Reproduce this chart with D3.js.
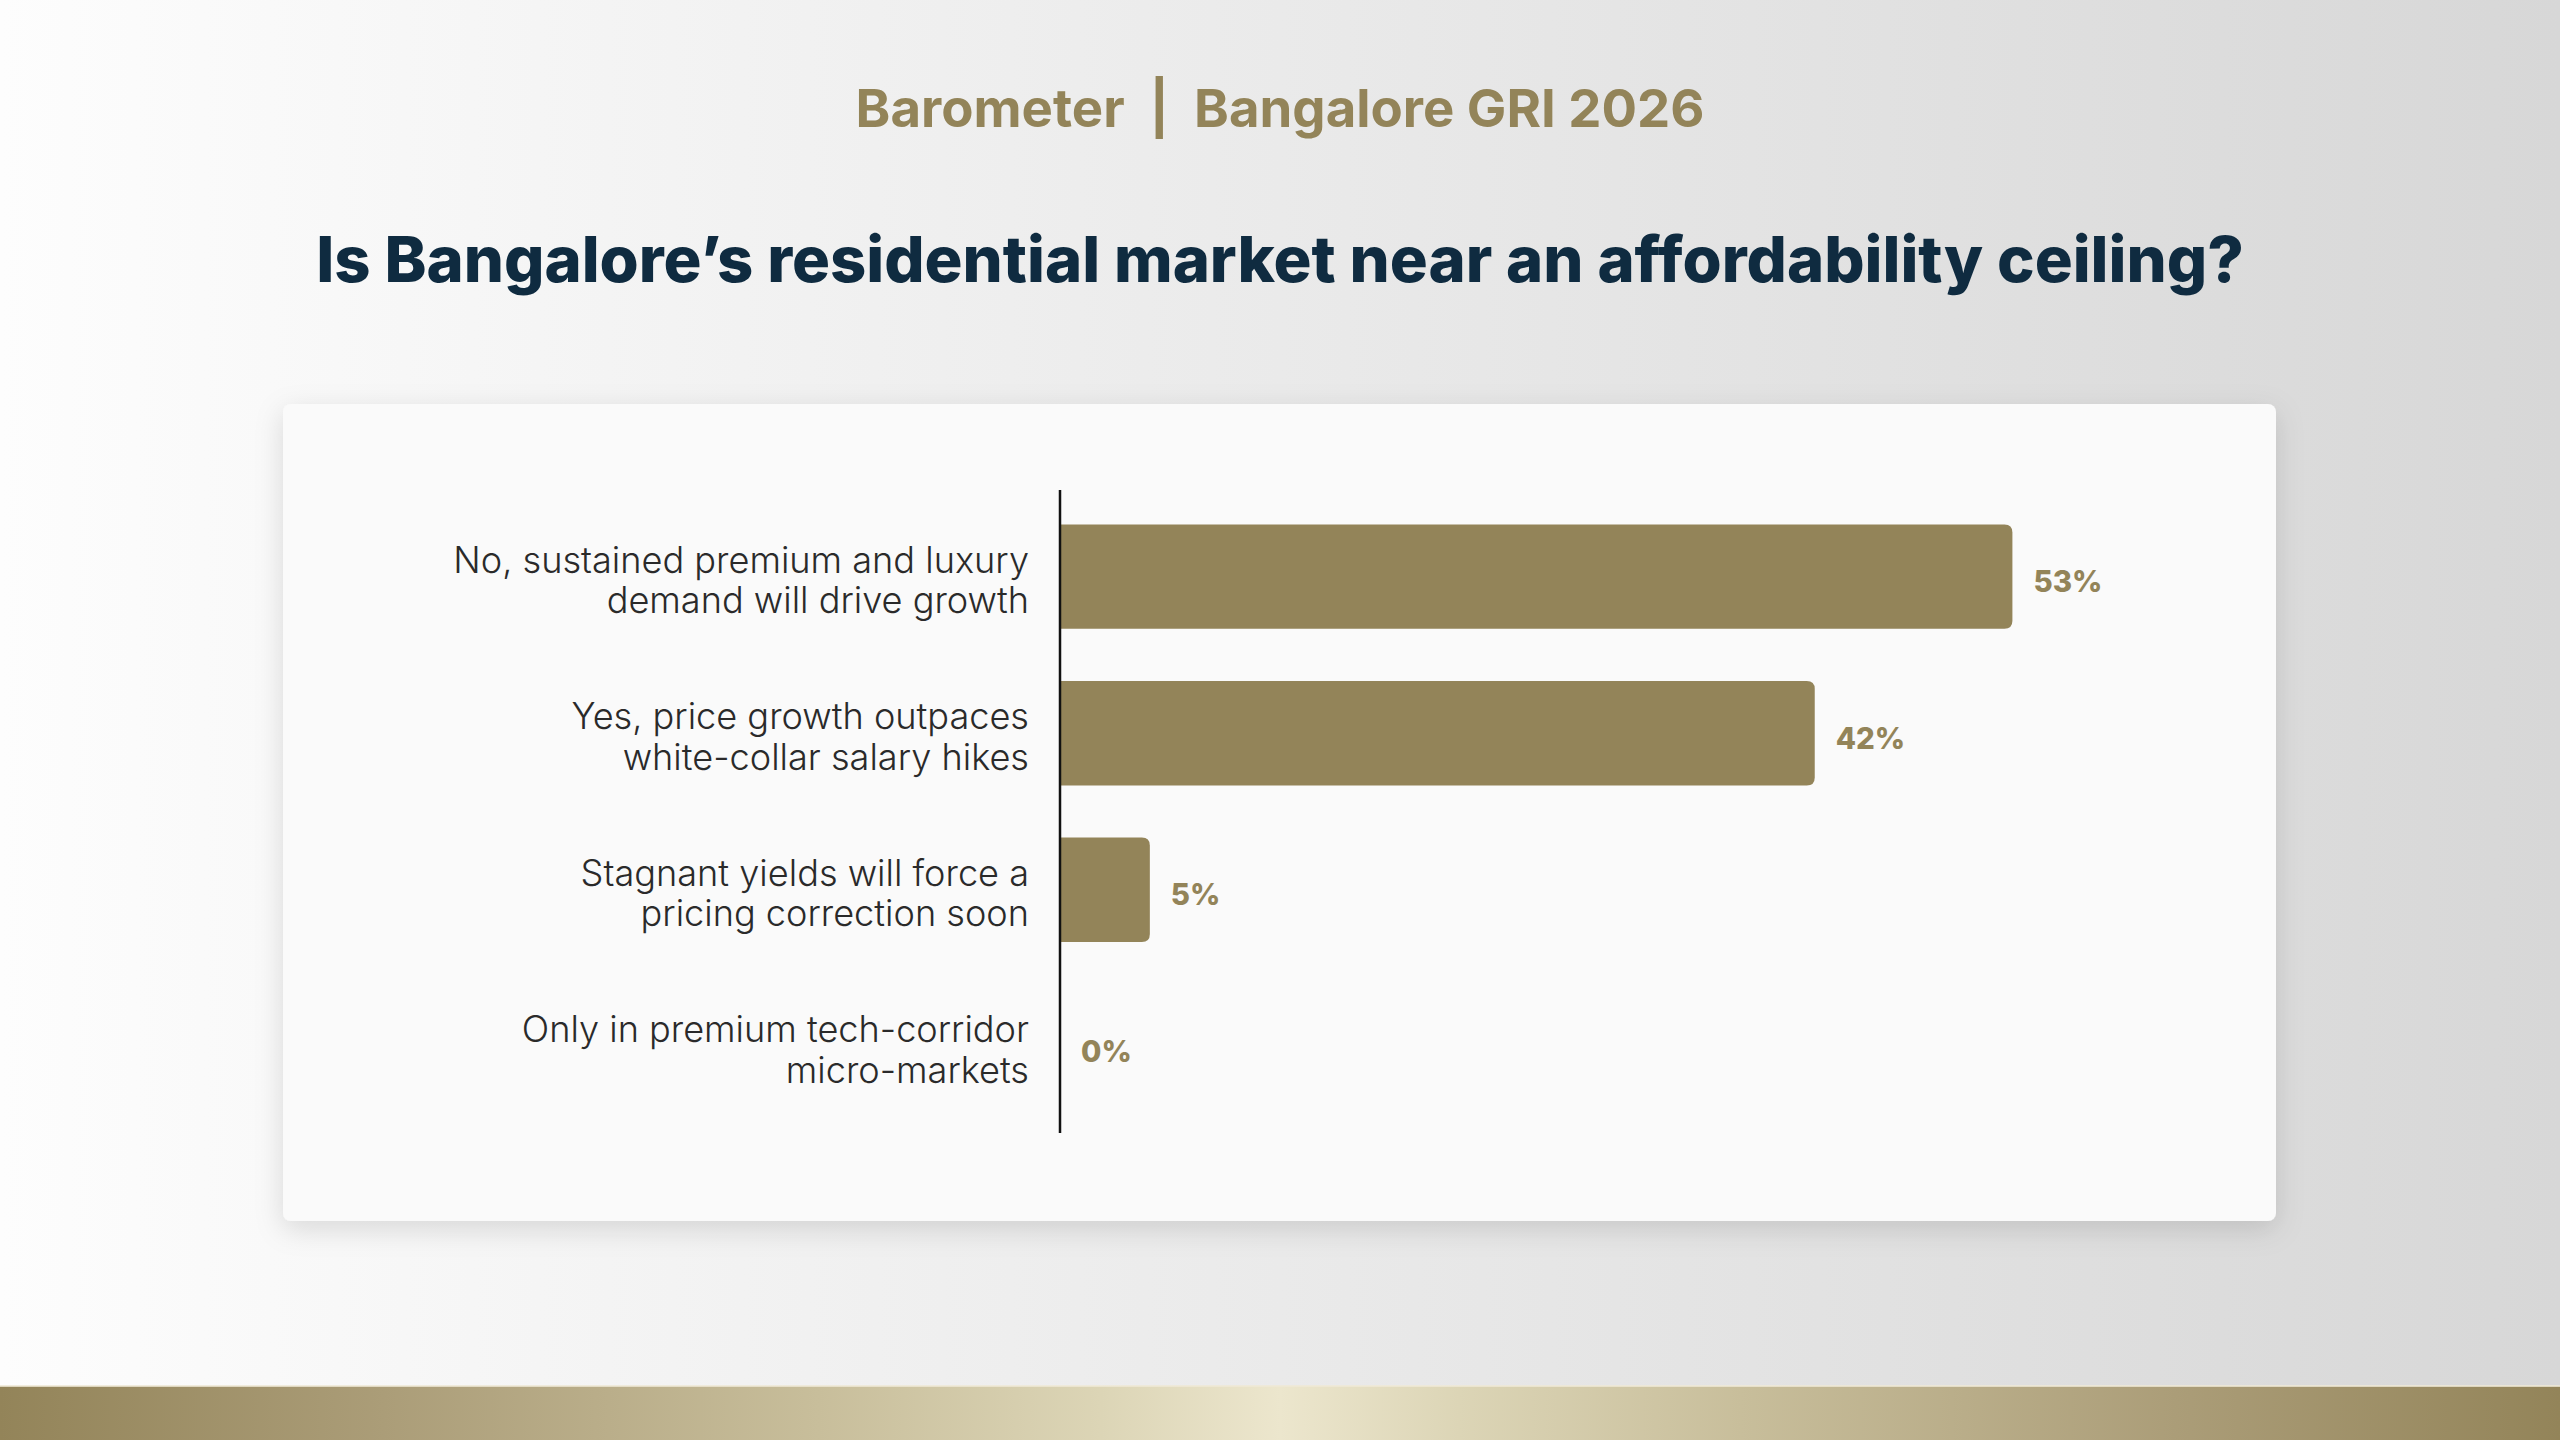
<!DOCTYPE html>
<html>
<head>
<meta charset="utf-8">
<script src="https://cdn.jsdelivr.net/npm/d3@7"></script>
<style>
  html, body { margin: 0; padding: 0; width: 2560px; height: 1440px; overflow: hidden; }
  svg { display: block; }
</style>
</head>
<body>
<svg id="chart" width="2560" height="1440"></svg>
<script>
// ---- data ----
const subtitleText = "Barometer  |  Bangalore GRI 2026";
const titleText = "Is Bangalore\u2019s residential market near an affordability ceiling?";
const categories = [
  ["No, sustained premium and luxury", "demand will drive growth"],
  ["Yes, price growth outpaces", "white-collar salary hikes"],
  ["Stagnant yields will force a", "pricing correction soon"],
  ["Only in premium tech-corridor", "micro-markets"]
];
const values = [53, 42, 5, 0];
const valueLabels = ["53%", "42%", "5%", "0%"];

// ---- setup ----
const W = 2560, H = 1440;
const FONT = "Inter, 'Open Sans', sans-serif";
const GOLD = "#938459";
const NAVY = "#0f2b40";
const svg = d3.select("#chart");
const defs = svg.append("defs");

const bg = defs.append("linearGradient").attr("id", "bg").attr("x1", 0).attr("y1", 0).attr("x2", 1).attr("y2", 0);
bg.append("stop").attr("offset", 0).attr("stop-color", "#fdfdfd");
bg.append("stop").attr("offset", 1).attr("stop-color", "#d7d7d7");

const band = defs.append("linearGradient").attr("id", "band").attr("x1", 0).attr("y1", 0).attr("x2", 1).attr("y2", 0);
[[0, "#938459"], [0.15, "#ab9d78"], [0.32, "#c8be9b"], [0.43, "#dcd5b6"], [0.5, "#ece6cd"], [0.57, "#dcd5b6"], [0.68, "#c8be9b"], [0.85, "#ab9d78"], [1, "#938459"]]
  .forEach(([o, c]) => band.append("stop").attr("offset", o).attr("stop-color", c));

const shadow = defs.append("filter").attr("id", "shadow").attr("x", "-10%").attr("y", "-10%").attr("width", "120%").attr("height", "130%");
shadow.append("feDropShadow").attr("dx", 0).attr("dy", 8).attr("stdDeviation", 14).attr("flood-color", "#000").attr("flood-opacity", 0.13);

svg.append("rect").attr("width", W).attr("height", H).attr("fill", "url(#bg)");

// bottom band
svg.append("rect").attr("x", 0).attr("y", 1386).attr("width", W).attr("height", 54).attr("fill", "url(#band)");
svg.append("rect").attr("x", 0).attr("y", 1385).attr("width", W).attr("height", 2).attr("fill", "#efe9d6").attr("opacity", 0.8);

// helper: fit text width
function fit(sel, target, base) {
  sel.attr("font-size", base);
  const len = sel.node().getComputedTextLength();
  const fs = base * target / len;
  sel.attr("font-size", fs);
  return fs;
}

// subtitle
const sub = svg.append("text").attr("x", 1280).attr("y", 127).attr("text-anchor", "middle")
  .attr("font-family", FONT).attr("font-weight", 700).attr("fill", GOLD)
  .style("white-space", "pre").attr("xml:space", "preserve").text(subtitleText);
fit(sub, 849, 56);

// title
const ttl = svg.append("text").attr("x", 1280).attr("y", 282).attr("text-anchor", "middle")
  .attr("font-family", FONT).attr("font-weight", 800).attr("fill", NAVY).text(titleText);
fit(ttl, 1928, 70);

// card
svg.append("rect").attr("x", 283).attr("y", 404).attr("width", 1993).attr("height", 817)
  .attr("rx", 8).attr("fill", "#fafafa").attr("filter", "url(#shadow)");

// scales
const x0 = 1060;
const x = d3.scaleLinear().domain([0, 100]).range([x0, x0 + 1797]);
const y = d3.scaleBand().domain(d3.range(categories.length)).range([490, 1133]).paddingInner(0.333).paddingOuter(0.22);

const g = svg.append("g");

// bars with rounded right corners
function barPath(xs, xe, yt, h, r) {
  const w = xe - xs;
  if (w <= 0) return "";
  r = Math.min(r, w, h / 2);
  return `M${xs},${yt}H${xe - r}Q${xe},${yt} ${xe},${yt + r}V${yt + h - r}Q${xe},${yt + h} ${xe - r},${yt + h}H${xs}Z`;
}
g.selectAll("path.bar").data(values).join("path").attr("class", "bar")
  .attr("d", (d, i) => barPath(x(0), x(d), y(i), y.bandwidth(), 8))
  .attr("fill", GOLD);

// value labels
const vl = g.selectAll("text.val").data(values).join("text").attr("class", "val")
  .attr("x", d => x(d) + 21).attr("y", (d, i) => y(i) + y.bandwidth() / 2 + 5)
  .attr("dy", "0.36em").attr("font-family", FONT).attr("font-weight", 800).attr("fill", GOLD)
  .text((d, i) => valueLabels[i]);
vl.attr("font-size", 32);
const vfs = 32 * 69 / vl.nodes()[0].getComputedTextLength();
vl.attr("font-size", vfs);

// category labels
const cl = g.selectAll("text.cat").data(categories).join("text").attr("class", "cat")
  .attr("text-anchor", "end").attr("font-family", FONT).attr("font-weight", 300).attr("fill", "#2a2a2a");
cl.selectAll("tspan").data((d, i) => d.map(t => ({ t, i }))).join("tspan")
  .attr("x", 1029).text(d => d.t);
cl.attr("font-size", 34);
const firstLine = cl.nodes()[0].querySelector("tspan");
const cfs = 34 * 576 / firstLine.getComputedTextLength();
cl.attr("font-size", cfs);
cl.selectAll("tspan")
  .attr("y", (d, j) => y(d.i) + y.bandwidth() / 2 + (j === 0 ? -0.25 * cfs + 5 : -0.25 * cfs + 5 + 40.5));

// axis line
const axis = d3.axisLeft(y).tickSize(0).tickFormat("");
const ag = svg.append("g").attr("transform", `translate(${x0},0)`).call(axis);
ag.select(".domain").attr("stroke", "#111").attr("stroke-width", 2.5).attr("d", `M0,490V1133`);
</script>
</body>
</html>
